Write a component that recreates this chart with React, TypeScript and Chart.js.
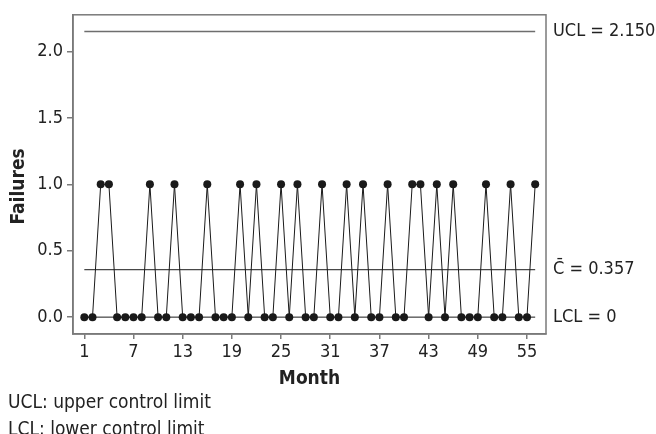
import React, { useEffect, useRef } from "react";
import { Chart, registerables } from "chart.js";

Chart.register(...registerables);

const months = [
  1, 2, 3, 4, 5, 6, 7, 8, 9, 10, 11, 12, 13, 14, 15, 16, 17, 18, 19, 20,
  21, 22, 23, 24, 25, 26, 27, 28, 29, 30, 31, 32, 33, 34, 35, 36, 37, 38, 39, 40,
  41, 42, 43, 44, 45, 46, 47, 48, 49, 50, 51, 52, 53, 54, 55, 56,
];
const failures = [
  0, 0, 1, 1, 0, 0, 0, 0, 1, 0, 0, 1, 0, 0, 0, 1, 0, 0, 0, 1,
  0, 1, 0, 0, 1, 0, 1, 0, 0, 1, 0, 0, 1, 0, 1, 0, 0, 1, 0, 0,
  1, 1, 0, 1, 0, 1, 0, 0, 0, 1, 0, 0, 1, 0, 0, 1,
];
const limitValues = [2.15, 0.357, 0];
const limitLabels = ["UCL = 2.150", "C\u0304 = 0.357", "LCL = 0"];
const limitColors = ["#6e6e6e", "#1a1a1a", "#1a1a1a"];
const limitWidths = [1.5, 1, 1];
const xTicks = [1, 7, 13, 19, 25, 31, 37, 43, 49, 55];
const xRange = [-0.38, 57.32];
const yRange = [-0.127, 2.276];
const footnotes = ["UCL: upper control limit", "LCL: lower control limit"];

const FONT = '"Liberation Sans Narrow", "Arial Narrow", "DejaVu Sans Condensed", sans-serif';
const TEXT = "#222222";
const FRAME = "#7a7a7a";

const framePlugin = {
  id: "frameAndLabels",
  afterDraw(chart: any) {
    const { ctx, chartArea: a, scales } = chart;
    ctx.save();
    ctx.strokeStyle = FRAME;
    ctx.lineWidth = 1.5;
    ctx.strokeRect(a.left, a.top, a.right - a.left, a.bottom - a.top);
    ctx.fillStyle = TEXT;
    ctx.font = `18px ${FONT}`;
    ctx.textBaseline = "middle";
    ctx.textAlign = "left";
    limitValues.forEach((v, i) => {
      ctx.fillText(limitLabels[i], a.right + 7, scales.y.getPixelForValue(v));
    });
    ctx.translate(19, (a.top + a.bottom) / 2 + 12);
    ctx.rotate(-Math.PI / 2);
    ctx.font = `bold 19px ${FONT}`;
    ctx.textAlign = "center";
    ctx.fillText("Failures", 0, 0);
    ctx.restore();
  },
};

export default function App() {
  const ref = useRef<HTMLCanvasElement>(null);

  useEffect(() => {
    if (!ref.current) return;
    const limitSets = limitValues.map((v, i) => ({
      data: [
        { x: months[0], y: v },
        { x: months[months.length - 1], y: v },
      ],
      borderColor: limitColors[i],
      borderWidth: limitWidths[i],
      pointRadius: 0,
      fill: false,
    }));
    const chart = new Chart(ref.current, {
      type: "line",
      data: {
        datasets: [
          ...limitSets,
          {
            data: months.map((m, i) => ({ x: m, y: failures[i] })),
            borderColor: "#1a1a1a",
            borderWidth: 1,
            pointRadius: 4,
            pointBackgroundColor: "#1a1a1a",
            pointBorderWidth: 0,
            fill: false,
          },
        ],
      },
      options: {
        animation: false,
        responsive: false,
        devicePixelRatio: 1,
        layout: { padding: { top: 12, right: 110, left: 0, bottom: 0 } },
        plugins: { legend: { display: false }, tooltip: { enabled: false } },
        scales: {
          x: {
            type: "linear",
            min: xRange[0],
            max: xRange[1],
            afterFit: (s: any) => {
              s.height = 100;
            },
            afterBuildTicks: (s: any) => {
              s.ticks = xTicks.map((v) => ({ value: v }));
            },
            grid: {
              display: true,
              drawOnChartArea: false,
              drawTicks: true,
              tickLength: 5,
              color: FRAME,
              lineWidth: 1.5,
            },
            border: { display: true, color: FRAME, width: 1.5 },
            ticks: {
              autoSkip: false,
              maxRotation: 0,
              padding: 3,
              color: TEXT,
              font: { family: FONT, size: 18 },
              callback: (v: any) => String(v),
            },
            title: {
              display: true,
              text: "Month",
              color: TEXT,
              font: { family: FONT, size: 19, weight: "bold" },
              padding: { top: 0, bottom: 44 },
            },
          },
          y: {
            type: "linear",
            min: yRange[0],
            max: yRange[1],
            afterFit: (s: any) => {
              s.width = 73;
            },
            grid: {
              display: true,
              drawOnChartArea: false,
              drawTicks: true,
              tickLength: 6,
              color: FRAME,
              lineWidth: 1.5,
            },
            border: { display: true, color: FRAME, width: 1.5 },
            ticks: {
              stepSize: 0.5,
              includeBounds: false,
              padding: 4,
              color: TEXT,
              font: { family: FONT, size: 18 },
              callback: (v: any) => Number(v).toFixed(1),
            },
          },
        },
      },
      plugins: [framePlugin],
    });
    return () => chart.destroy();
  }, []);

  return (
    <div style={{ position: "absolute", left: 0, top: 0, width: 656, height: 434, background: "#fff" }}>
      <canvas ref={ref} width={656} height={434} style={{ display: "block" }} />
      <div
        style={{
          position: "absolute",
          left: 8,
          top: 388,
          fontFamily: FONT,
          fontSize: 19,
          lineHeight: "27px",
          color: TEXT,
          whiteSpace: "nowrap",
        }}
      >
        {footnotes.map((t) => (
          <div key={t}>{t}</div>
        ))}
      </div>
    </div>
  );
}
